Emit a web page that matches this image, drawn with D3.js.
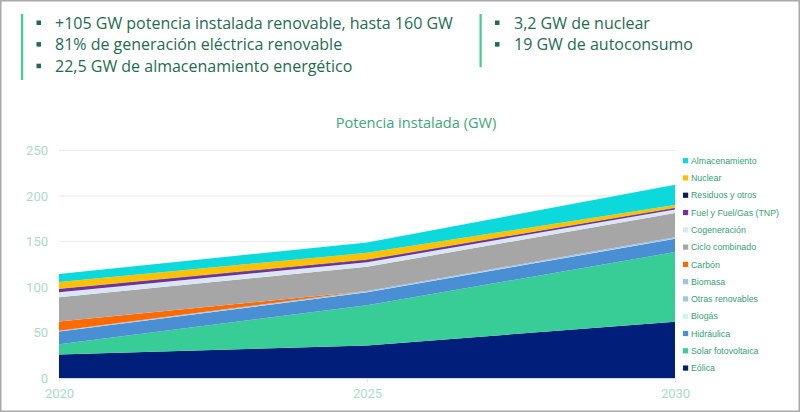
<!DOCTYPE html>
<html><head><meta charset="utf-8">
<script src="https://cdn.jsdelivr.net/npm/d3@7"></script>
<style>
html,body{margin:0;padding:0;background:#fff;}
svg{display:block;}
</style></head>
<body>
<svg id="chart" width="800" height="412"></svg>
<script>
// ---- data ----
const years = [2020, 2025, 2030];
const eolica = [26, 36, 62];
const solarFV = [11.4, 44, 76.4];
const hidraulica = [14, 14.3, 14.5];
const biogas = [0.2, 0.3, 0.4];
const otrasRenovables = [0, 0.03, 0.08];
const biomasa = [0.6, 1.0, 1.4];
const carbon = [10, 0, 0];
const cicloCombinado = [26.6, 26.6, 26.6];
const cogeneracion = [5.6, 5.0, 3.8];
const fuelGas = [3.4, 2.5, 1.4];
const residuos = [0.5, 0.4, 0.34];
const nuclear = [7.4, 7.4, 3.2];
const almacenamiento = [8.8, 11.5, 22];

const seriesNames = ["Eólica","Solar fotovoltaica","Hidráulica","Biogás","Otras renovables","Biomasa","Carbón","Ciclo combinado","Cogeneración","Fuel y Fuel/Gas (TNP)","Residuos y otros","Nuclear","Almacenamiento"];
const seriesValues = [eolica, solarFV, hidraulica, biogas, otrasRenovables, biomasa, carbon, cicloCombinado, cogeneracion, fuelGas, residuos, nuclear, almacenamiento];
const seriesColors = ["#001e7a","#38cc96","#4a8fd4","#c8f7f4","#a3c5e8","#9fc2e6","#ff6a00","#a6a6a6","#dbe6f3","#7030a0","#0f1d55","#ffc000","#0bd9db"];
const yTicks = [0, 50, 100, 150, 200, 250];
const headerLeft = ["+105 GW potencia instalada renovable, hasta 160 GW","81% de generación eléctrica renovable","22,5 GW de almacenamiento energético"];
const headerRight = ["3,2 GW de nuclear","19 GW de autoconsumo"];
const chartTitle = "Potencia instalada (GW)";

const svg = d3.select("#chart");

// frame
svg.append("rect").attr("x",0.75).attr("y",0.75).attr("width",798.5).attr("height",410.5)
  .attr("fill","none").attr("stroke","#a9a9a9").attr("stroke-width",1.5);

// header
const hColor = "#1e6b52", barColor = "#3ecf8e";
const hFont = "'Open Sans', sans-serif";
svg.append("rect").attr("x",21).attr("y",14).attr("width",2.2).attr("height",66).attr("fill",barColor);
svg.append("rect").attr("x",479.5).attr("y",14).attr("width",2.2).attr("height",53).attr("fill",barColor);
function headerList(items, bx, tx) {
  items.forEach((t,i)=>{
    const cy = 23 + i*21.6;
    svg.append("rect").attr("x",bx).attr("y",cy-2.5).attr("width",4.5).attr("height",4.5).attr("fill",hColor);
    svg.append("text").attr("x",tx).attr("y",cy).attr("dy","0.36em")
      .attr("font-family",hFont).attr("font-size",16).attr("fill",hColor).text(t);
  });
}
headerList(headerLeft, 36.5, 55);
headerList(headerRight, 495, 514);

// title
svg.append("text").attr("x",416).attr("y",123).attr("dy","0.36em").attr("text-anchor","middle")
  .attr("font-family",hFont).attr("font-size",14.6).attr("fill","#3da67c").text(chartTitle);

// scales
const x = d3.scaleLinear().domain([2020,2030]).range([59,675]);
const y = d3.scaleLinear().domain([0,250]).range([378.3,150.3]);

// gridlines
svg.append("g").selectAll("line").data(yTicks.filter(d=>d>0)).join("line")
  .attr("x1",59).attr("x2",675).attr("y1",d=>y(d)).attr("y2",d=>y(d))
  .attr("stroke","#ebebeb").attr("stroke-width",1.2);

// y axis
const yAxis = d3.axisLeft(y).tickValues(yTicks).tickSize(0).tickPadding(0);
const gy = svg.append("g").attr("transform","translate(48,0)").call(yAxis);
gy.select(".domain").remove();
gy.selectAll("text").attr("font-family","Roboto, sans-serif").attr("font-size",13).attr("fill","#a9dcc7");

// stack
const table = years.map((yr,i)=>{
  const o = {year: yr};
  seriesNames.forEach((n,k)=>{ o[n] = seriesValues[k][i]; });
  return o;
});
const stacked = d3.stack().keys(seriesNames)(table);
const area = d3.area().x(d=>x(d.data.year)).y0(d=>y(d[0])).y1(d=>y(d[1]));
svg.append("g").selectAll("path").data(stacked).join("path")
  .attr("d",area).attr("fill",(d,i)=>seriesColors[i]);

// x axis
const xAxis = d3.axisBottom(x).tickValues(years).tickFormat(d3.format("d")).tickSize(4).tickPadding(6);
const gx = svg.append("g").attr("transform","translate(0,378.3)").call(xAxis);
gx.select(".domain").attr("stroke","#e3e3e3");
gx.selectAll(".tick line").attr("stroke","#e3e3e3");
gx.selectAll("text").attr("font-family","Roboto, sans-serif").attr("font-size",13).attr("fill","#a9dcc7");

// legend
const legendOrder = seriesNames.map((n,i)=>i).reverse();
const lg = svg.append("g");
legendOrder.forEach((k,j)=>{
  const cy = 160.7 + j*17.28;
  lg.append("rect").attr("x",683).attr("y",cy-2.6).attr("width",5.2).attr("height",5.2).attr("fill",seriesColors[k]);
  lg.append("text").attr("x",691).attr("y",cy).attr("dy","0.36em")
    .attr("font-family","'Liberation Sans', Arial, sans-serif").attr("font-size",8.8)
    .attr("fill","#35a074").text(seriesNames[k]);
});
</script>
</body></html>
